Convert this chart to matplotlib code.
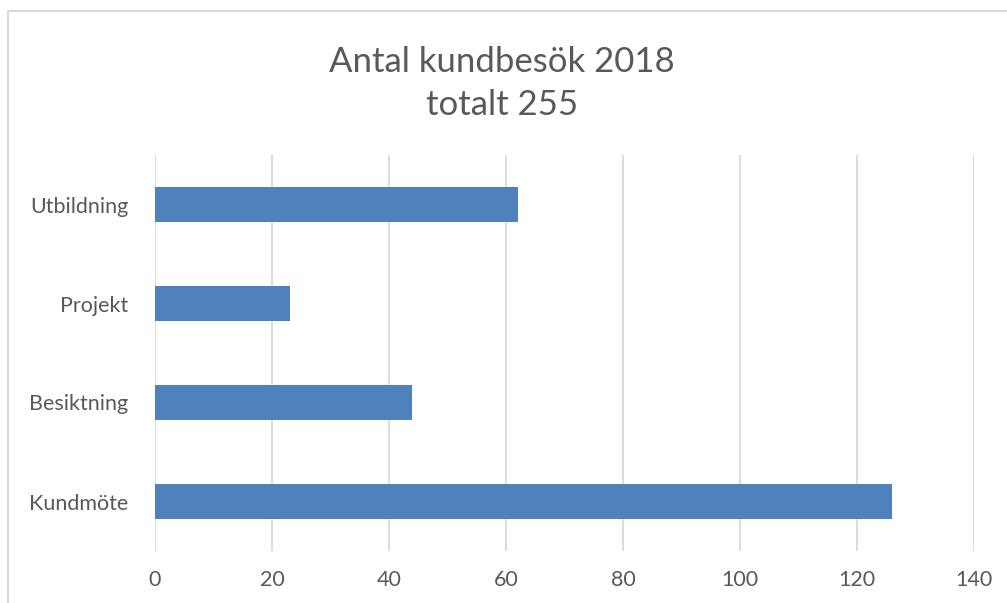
import matplotlib
matplotlib.use("Agg")
import matplotlib.pyplot as plt
from matplotlib.patches import Rectangle

categories = ["Kundmöte", "Besiktning", "Projekt", "Utbildning"]
values = [126, 44, 23, 62]
xticks = [0, 20, 40, 60, 80, 100, 120, 140]

W, H = 1007, 603
text_col = "#595959"
grid_col = "#D9D9D9"
bar_col = "#4F81BD"

plt.rcParams["font.family"] = ["Lato", "DejaVu Sans"]

fig = plt.figure(figsize=(W / 100, H / 100), dpi=100)
fig.patch.set_facecolor("white")

# chart frame (cut off on right and bottom)
fig.patches.append(Rectangle((8 / W, -0.1), 1.2, (H - 11) / H + 0.1,
                             transform=fig.transFigure, fill=False,
                             edgecolor=grid_col, linewidth=1.5))

ax = fig.add_axes([155 / W, 52 / H, (974 - 155) / W, (551 - 155) / H])
ax.barh(range(len(categories)), values, height=0.345, color=bar_col, zorder=3)
ax.set_yticks(range(len(categories)))
ax.set_yticklabels(categories)
ax.set_ylim(-0.5, len(categories) - 0.5)
ax.set_xlim(0, 140)
ax.set_xticks(xticks)
ax.grid(axis="x", color=grid_col, linewidth=1.3, zorder=0)
for s in ax.spines.values():
    s.set_visible(False)
ax.tick_params(axis="both", length=0, labelsize=15.5, colors=text_col)
ax.tick_params(axis="x", pad=14)
ax.tick_params(axis="y", pad=19)

fig.text(502 / W, 1 - 62 / H, "Antal kundbesök 2018", ha="center", va="center",
         fontsize=25, color=text_col)
fig.text(502 / W, 1 - 105 / H, "totalt 255", ha="center", va="center",
         fontsize=25, color=text_col)

fig.savefig("out.png", dpi=100, facecolor="white")
